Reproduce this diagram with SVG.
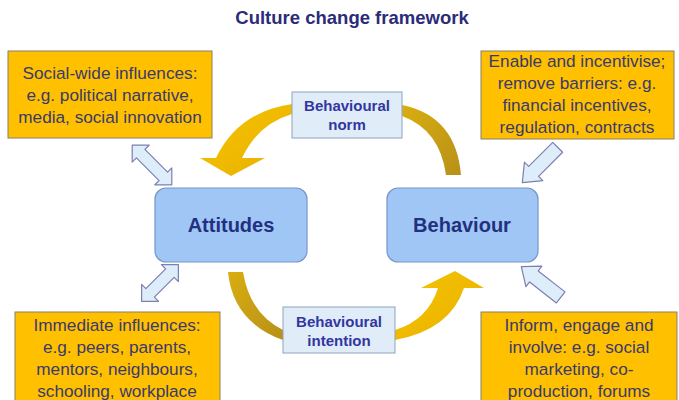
<svg xmlns="http://www.w3.org/2000/svg" width="679" height="400" viewBox="0 0 679 400">
  <defs>
    <linearGradient id="goldBright" x1="0" y1="0" x2="1" y2="1">
      <stop offset="0" stop-color="#f6c400"/>
      <stop offset="1" stop-color="#e8b000"/>
    </linearGradient>
    <linearGradient id="goldDark" x1="0" y1="0" x2="1" y2="1">
      <stop offset="0" stop-color="#d8ae10"/>
      <stop offset="1" stop-color="#b89018"/>
    </linearGradient>
  </defs>
  <style>
    .title { font-family: "Liberation Sans", Arial, sans-serif; font-weight: bold; font-size: 18.5px; fill: #2b2b7a; }
    .note rect { fill: #ffc000; stroke: #8a7f6a; stroke-width: 1; }
    .note text { font-family: "Liberation Sans", Arial, sans-serif; font-size: 17.2px; fill: #3a3a6c; text-anchor: middle; }
    .stage rect { fill: #9fc6f4; stroke: #7895c8; stroke-width: 1.2; }
    .stage text { font-family: "Liberation Sans", Arial, sans-serif; font-weight: bold; font-size: 20px; fill: #23307f; text-anchor: middle; }
    .label rect { fill: #e0ecf8; stroke: #8ea3c0; stroke-width: 1; }
    .label text { font-family: "Liberation Sans", Arial, sans-serif; font-weight: bold; font-size: 15px; fill: #3236a0; text-anchor: middle; }
    .flow-lit { fill: url(#goldBright); }
    .flow-dim { fill: url(#goldDark); }
    .influence { fill: #ddeefa; stroke: #7d7fb0; stroke-width: 1.2; stroke-linejoin: round; }
  </style>

  <text class="title" x="352" y="24" text-anchor="middle">Culture change framework</text>

  <!-- cycle connectors and influence arrows -->
  <g id="connectors">
    <!-- norm -> attitudes -->
    <path class="flow-lit" d="M292,104 Q238,112 216,158 L200,158 L231,176 L265,158 L242,158 Q258,124 292,114 Z"/>
    <!-- behaviour -> norm -->
    <path class="flow-dim" d="M402,105 Q456,116 461,175 L446,175 Q440,130 402,116 Z"/>
    <!-- attitudes -> intention -->
    <path class="flow-dim" d="M228,272 Q233,322 283,340 L283,330 Q250,314 243,272 Z"/>
    <!-- intention -> behaviour -->
    <path class="flow-lit" d="M395,340 Q450,330 464,288 L484,288 L455,271 L421,288 L438,288 Q428,320 395,330 Z"/>

    <!-- two-way influence arrows -->
    <path class="influence" transform="translate(152,165) rotate(45)" d="M-28,0 L-16,-12 L-16,-6 L16,-6 L16,-12 L28,0 L16,12 L16,6 L-16,6 L-16,12 Z"/>
    <path class="influence" transform="translate(160,283) rotate(-45)" d="M-26,0 L-14,-12 L-14,-6 L14,-6 L14,-12 L26,0 L14,12 L14,6 L-14,6 L-14,12 Z"/>
    <!-- one-way influence arrows -->
    <path class="influence" transform="translate(540,165) rotate(135)" d="M-25,-7 L9,-7 L9,-13 L25,0 L9,13 L9,7 L-25,7 Z"/>
    <path class="influence" transform="translate(541,282) rotate(-142)" d="M-25,-7 L9,-7 L9,-13 L25,0 L9,13 L9,7 L-25,7 Z"/>
  </g>

  <g id="social-wide" class="note">
    <rect x="8" y="51" width="204" height="87"/>
    <text x="110" y="79">Social-wide influences:</text>
    <text x="110" y="101">e.g. political narrative,</text>
    <text x="110" y="123">media, social innovation</text>
  </g>

  <g id="enable" class="note">
    <rect x="481" y="51" width="193" height="88"/>
    <text x="577" y="67">Enable and incentivise;</text>
    <text x="577" y="89">remove barriers: e.g.</text>
    <text x="577" y="111">financial incentives,</text>
    <text x="577" y="133">regulation, contracts</text>
  </g>

  <g id="immediate" class="note">
    <rect x="15" y="312" width="205" height="92"/>
    <text x="117" y="331">Immediate influences:</text>
    <text x="117" y="353">e.g. peers, parents,</text>
    <text x="117" y="375">mentors, neighbours,</text>
    <text x="117" y="397">schooling, workplace</text>
  </g>

  <g id="inform" class="note">
    <rect x="481" y="312" width="196" height="92"/>
    <text x="579" y="331">Inform, engage and</text>
    <text x="579" y="353">involve: e.g. social</text>
    <text x="579" y="375">marketing, co-</text>
    <text x="579" y="397">production, forums</text>
  </g>

  <g id="attitudes" class="stage">
    <rect x="155" y="188" width="152" height="74" rx="11"/>
    <text x="231" y="232">Attitudes</text>
  </g>

  <g id="behaviour" class="stage">
    <rect x="387" y="188" width="151" height="74" rx="11"/>
    <text x="462" y="232">Behaviour</text>
  </g>

  <g id="norm" class="label">
    <rect x="292" y="92" width="110" height="46"/>
    <text x="347" y="111">Behavioural</text>
    <text x="347" y="130">norm</text>
  </g>

  <g id="intention" class="label">
    <rect x="283" y="307" width="112" height="46"/>
    <text x="339" y="327">Behavioural</text>
    <text x="339" y="346">intention</text>
  </g>
</svg>
